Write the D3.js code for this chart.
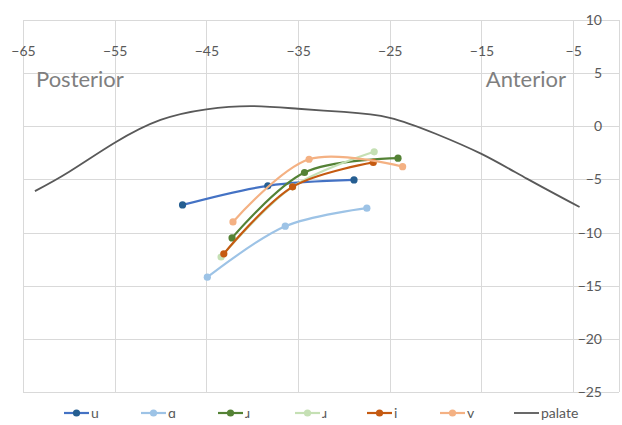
<!DOCTYPE html>
<html>
<head>
<meta charset="utf-8">
<script src="https://cdn.jsdelivr.net/npm/d3@7"></script>
<style>
  html, body { margin: 0; padding: 0; background: #fff; }
  svg { display: block; font-family: Lato, "Open Sans", sans-serif; }
</style>
</head>
<body>
<svg id="chart" width="622" height="425"></svg>
<script>
// ---- data ----
const seriesNames = ["u", "ɑ", "ɹ", "ɹ", "i", "v"];
const uX = [-47.6, -38.3, -28.9];
const uY = [-7.4, -5.6, -5.05];
const aX = [-44.9, -36.4, -27.5];
const aY = [-14.2, -9.4, -7.7];
const r1X = [-42.2, -34.3, -24.1];
const r1Y = [-10.5, -4.35, -3.0];
const r2X = [-43.4, -35.6, -26.7];
const r2Y = [-12.3, -5.7, -2.4];
const iX = [-43.1, -35.6, -26.8];
const iY = [-12.0, -5.7, -3.4];
const vX = [-42.1, -33.8, -23.6];
const vY = [-9.0, -3.1, -3.8];
const palateX = [-63.7, -60, -55, -50, -45, -40, -35, -30, -25, -20, -15, -10, -4.3];
const palateY = [-6.1, -4.3, -1.55, 0.6, 1.6, 1.9, 1.65, 1.35, 0.8, -0.7, -2.6, -4.95, -7.6];
const xTicks = [-65, -55, -45, -35, -25, -15, -5];
const yTicks = [10, 5, 0, -5, -10, -15, -20, -25];
const sideLabels = ["Posterior", "Anterior"];

// ---- styles ----
const lineColors = ["#4472C4", "#9DC3E6", "#548235", "#C5E0B4", "#C55A11", "#F4B183"];
const markColors = ["#255E91", "#9DC3E6", "#548235", "#C5E0B4", "#C55A11", "#F4B183"];
const palateColor = "#595959";

const svg = d3.select("#chart");
const x = d3.scaleLinear().domain([-65, 0]).range([23, 619]);
const y = d3.scaleLinear().domain([-25, 10]).range([392, 20]);

// gridlines
const grid = svg.append("g").attr("stroke", "#d9d9d9").attr("stroke-width", 1).attr("shape-rendering", "crispEdges");
grid.selectAll("line.v").data(xTicks.concat([0])).join("line")
  .attr("x1", d => Math.round(x(d)) + 0.5).attr("x2", d => Math.round(x(d)) + 0.5)
  .attr("y1", y(10)).attr("y2", y(-25));
grid.selectAll("line.h").data(yTicks).join("line")
  .attr("y1", d => Math.round(y(d)) + 0.5).attr("y2", d => Math.round(y(d)) + 0.5)
  .attr("x1", x(-65)).attr("x2", x(0));

// x axis labels (top)
const xAxis = svg.append("g").attr("transform", "translate(0,46)")
  .call(d3.axisBottom(x).tickValues(xTicks).tickSize(0).tickPadding(0).tickFormat(d3.format("d")));
xAxis.select(".domain").remove();
xAxis.selectAll("text").attr("fill", "#595959").style("font-size", "14px").style("font-family", "Lato, sans-serif");

// y axis labels (right)
const yAxis = svg.append("g").attr("transform", "translate(602,0)")
  .call(d3.axisLeft(y).tickValues(yTicks).tickSize(0).tickPadding(0).tickFormat(d3.format("d")));
yAxis.select(".domain").remove();
yAxis.selectAll("text").attr("fill", "#595959").style("font-size", "14px").style("font-family", "Lato, sans-serif");

// side labels
svg.append("text").attr("x", 36).attr("y", 87).text(sideLabels[0])
  .attr("fill", "#7f7f7f").style("font-size", "22px");
svg.append("text").attr("x", 566).attr("y", 87).attr("text-anchor", "end").text(sideLabels[1])
  .attr("fill", "#7f7f7f").style("font-size", "22px");

// series
const allX = [uX, aX, r1X, r2X, iX, vX];
const allY = [uY, aY, r1Y, r2Y, iY, vY];
const line = d3.line().x(d => x(d[0])).y(d => y(d[1])).curve(d3.curveCatmullRom.alpha(0.5));
const palLine = d3.line().x(d => x(d[0])).y(d => y(d[1])).curve(d3.curveNatural);

allX.forEach((xs, k) => {
  const pts = xs.map((v, j) => [v, allY[k][j]]);
  const g = svg.append("g");
  g.append("path").datum(pts).attr("d", line)
    .attr("fill", "none").attr("stroke", lineColors[k]).attr("stroke-width", 2.2).attr("stroke-linecap", "round");
  g.selectAll("circle").data(pts).join("circle")
    .attr("cx", d => x(d[0])).attr("cy", d => y(d[1])).attr("r", 3.6)
    .attr("fill", markColors[k]);
});

// palate
const palPts = palateX.map((v, j) => [v, palateY[j]]);
svg.append("path").datum(palPts).attr("d", palLine)
  .attr("fill", "none").attr("stroke", palateColor).attr("stroke-width", 1.8);

// legend
const legX = [64, 141, 218, 295, 367, 440, 514];
const legY = 413;
const legNames = seriesNames.concat(["palate"]);
const leg = svg.append("g");
legNames.forEach((name, k) => {
  const lx = legX[k];
  const isPal = k === 6;
  leg.append("line").attr("x1", lx).attr("x2", lx + 25).attr("y1", legY).attr("y2", legY)
    .attr("stroke", isPal ? palateColor : lineColors[k]).attr("stroke-width", isPal ? 1.8 : 2.2);
  if (!isPal) {
    leg.append("circle").attr("cx", lx + 12.5).attr("cy", legY).attr("r", 3.6).attr("fill", markColors[k]);
  }
  leg.append("text").attr("x", lx + 27).attr("y", legY).attr("dy", "0.35em").text(name)
    .attr("fill", "#595959").style("font-size", "14px");
});
</script>
</body>
</html>
